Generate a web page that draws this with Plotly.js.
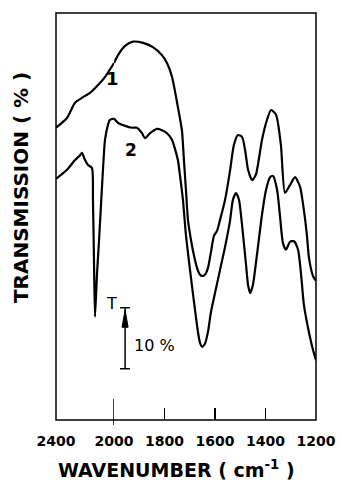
<!DOCTYPE html>
<html><head><meta charset="utf-8">
<script src="https://cdn.plot.ly/plotly-3.0.1.min.js"></script>
<style>html,body{margin:0;padding:0;background:#fff}</style>
</head><body><div id="chart" style="width:342px;height:485px"></div>
<script>
// Curve 1 (upper spectrum)
const wavenumber1 = [2400,2324,2269,2221,2166,2110,2062,2000,1984,1956,1925,1885,1846,1810,1790,1770,1747,1731,1723,1715,1707,1695,1683,1671,1659,1651,1640,1628,1616,1604,1592,1580,1560,1541,1525,1509,1493,1481,1469,1453,1438,1414,1394,1378,1358,1339,1323,1303,1283,1263,1248,1236,1228,1212,1200];
const transmission1 = [47.9,49.5,52.0,52.8,53.6,54.9,56.2,58.5,59.8,61.3,62.0,61.8,61.1,59.8,58.5,56.2,51.3,47.5,42.6,37.7,32.8,29.5,26.9,24.9,23.8,23.6,23.8,24.9,27.5,30.2,31.0,32.8,36.1,40.7,45.1,46.7,46.4,44.3,41.0,39.3,40.2,45.9,49.2,50.8,50.0,45.1,37.2,38.5,39.8,38.2,34.4,30.3,26.6,23.6,22.8];
// Curve 2 (lower spectrum)
const wavenumber2 = [2400,2324,2269,2234,2221,2200,2179,2152,2145,2138,2131,2117,2103,2076,2062,2041,2028,2000,1984,1956,1929,1909,1889,1877,1857,1830,1810,1790,1770,1747,1739,1727,1715,1699,1679,1667,1659,1651,1640,1628,1616,1600,1580,1560,1541,1529,1517,1505,1493,1477,1469,1461,1450,1434,1414,1398,1382,1370,1354,1343,1331,1319,1303,1287,1271,1259,1248,1232,1212,1200];
const transmission2 = [39.5,41.0,42.6,43.4,43.8,42.6,41.8,41.3,36.1,26.2,16.9,24.0,29.5,41.0,45.9,48.4,49.2,49.4,48.7,48.2,47.9,47.9,47.0,46.2,47.0,47.7,47.5,47.0,45.9,42.6,40.2,36.1,30.3,24.6,18.0,14.3,12.6,12.0,12.5,14.4,17.7,20.8,24.6,28.4,32.5,36.1,37.2,36.1,32.0,25.4,22.1,20.8,22.1,27.0,33.6,37.7,39.8,40.0,37.7,33.6,29.0,27.9,29.2,29.3,27.9,23.8,18.9,15.2,11.5,9.8];
// Axis ticks (broken axis: 2400-2000 compressed, 2000-1200 main)
const tickValsHigh = [2400, 2000];
const tickValsLow = [1800, 1600, 1400, 1200];

function part(wn, t, hi) {
  const xs = [], ys = [];
  for (let i = 0; i < wn.length; i++) {
    if ((hi && wn[i] >= 2000) || (!hi && wn[i] <= 2000)) { xs.push(wn[i]); ys.push(t[i]); }
  }
  return {xs, ys};
}
const lineStyle = {color: '#000', width: 2.2, shape: 'spline', smoothing: 0.6};
const traces = [];
[[wavenumber1, transmission1], [wavenumber2, transmission2]].forEach(([wn, t]) => {
  const a = part(wn, t, true), b = part(wn, t, false);
  traces.push({x: a.xs, y: a.ys, xaxis: 'x', yaxis: 'y', mode: 'lines', line: lineStyle, hoverinfo: 'skip', showlegend: false});
  traces.push({x: b.xs, y: b.ys, xaxis: 'x2', yaxis: 'y', mode: 'lines', line: lineStyle, hoverinfo: 'skip', showlegend: false});
});

const tickFont = {family: 'DejaVu Sans', size: 14, color: '#000', weight: 'bold'};
const layout = {
  width: 342, height: 485,
  margin: {l: 56, r: 26, t: 13, b: 65},
  paper_bgcolor: '#fff', plot_bgcolor: '#fff',
  showlegend: false,
  xaxis: {domain: [0, 0.223], range: [2400, 2000], tickmode: 'array', tickvals: tickValsHigh, ticktext: tickValsHigh.map(String),
    ticks: '', showgrid: false, zeroline: false, showline: false, tickfont: tickFont, ticklabelstandoff: 11, anchor: 'y'},
  xaxis2: {domain: [0.223, 1], range: [2000, 1200], tickmode: 'array', tickvals: tickValsLow, ticktext: tickValsLow.map(String),
    ticks: 'inside', ticklen: 12, tickwidth: 1.5, tickcolor: '#000', showgrid: false, zeroline: false, showline: false, tickfont: tickFont, ticklabelstandoff: 11, anchor: 'y'},
  yaxis: {range: [0, 66.7], showticklabels: false, ticks: '', showgrid: false, zeroline: false, showline: false},
  shapes: [
    {type: 'rect', xref: 'paper', yref: 'paper', x0: 0, x1: 1, y0: 0, y1: 1, line: {color: '#000', width: 1.5}},
    {type: 'line', xref: 'x', yref: 'paper', x0: 2000, x1: 2000, y0: -0.012, y1: 0.052, line: {color: '#000', width: 1.5}},
    // scale bar 10 %
    {type: 'line', xref: 'x2', yref: 'y', x0: 1956, x1: 1956, y0: 8.4, y1: 18.4, line: {color: '#000', width: 1.5}},
    {type: 'line', xref: 'x2', yref: 'y', x0: 1976, x1: 1937, y0: 18.4, y1: 18.4, line: {color: '#000', width: 1.5}},
    {type: 'line', xref: 'x2', yref: 'y', x0: 1976, x1: 1937, y0: 8.4, y1: 8.4, line: {color: '#000', width: 1.5}},
    {type: 'path', xref: 'x2', yref: 'y', path: 'M 1956 18.0 L 1968 15.2 L 1944 15.2 Z', fillcolor: '#000', line: {color: '#000', width: 1}}
  ],
  annotations: [
    {text: 'TRANSMISSION ( % )', xref: 'paper', yref: 'paper', x: -0.135, y: 0.572, textangle: -90, showarrow: false,
      xanchor: 'center', yanchor: 'middle', font: {family: 'DejaVu Sans', size: 20, color: '#000', weight: 'bold'}},
    {text: 'WAVENUMBER ( cm<sup>-1</sup> )', xref: 'paper', yref: 'paper', x: 0.465, y: -0.12, showarrow: false,
      xanchor: 'center', yanchor: 'middle', font: {family: 'DejaVu Sans', size: 19, color: '#000', weight: 'bold'}},
    {text: '1', xref: 'paper', yref: 'paper', x: 0.219, y: 0.840, showarrow: false, xanchor: 'center', yanchor: 'middle',
      font: {family: 'DejaVu Sans', size: 18, color: '#000', weight: 'bold'}},
    {text: '2', xref: 'paper', yref: 'paper', x: 0.288, y: 0.663, showarrow: false, xanchor: 'center', yanchor: 'middle',
      font: {family: 'DejaVu Sans', size: 17, color: '#000', weight: 'bold'}},
    {text: 'T', xref: 'paper', yref: 'paper', x: 0.215, y: 0.287, showarrow: false, xanchor: 'center', yanchor: 'middle',
      font: {family: 'DejaVu Sans', size: 16, color: '#000'}},
    {text: '10 %', xref: 'paper', yref: 'paper', x: 0.377, y: 0.184, showarrow: false, xanchor: 'center', yanchor: 'middle',
      font: {family: 'DejaVu Sans', size: 16, color: '#000'}}
  ]
};
Plotly.newPlot('chart', traces, layout, {displayModeBar: false, staticPlot: true});
</script>
</body></html>
